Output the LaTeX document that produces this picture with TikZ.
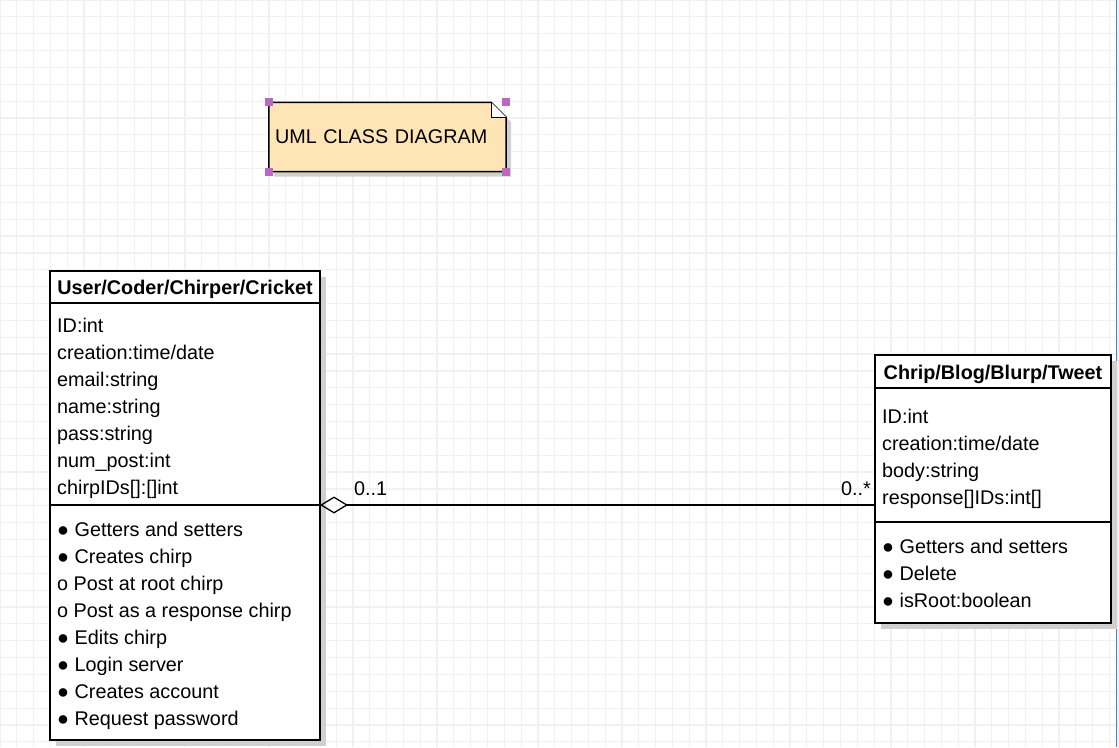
\documentclass[tikz,border=0pt]{standalone}
\usepackage{fontspec}
\setmainfont{Liberation Sans}
\usetikzlibrary{arrows.meta,positioning,calc,shadows,backgrounds}
\usepackage{xcolor}
\definecolor{notefill}{RGB}{255,228,181}
\definecolor{handlepurple}{RGB}{185,105,192}
\definecolor{gridgray}{RGB}{241,241,241}
\definecolor{edgeblue}{RGB}{60,140,205}
\definecolor{shadowgray}{RGB}{208,208,208}

\begin{document}
\begin{tikzpicture}[x=1pt, y=-1pt,
    every node/.style={font=\fontsize{19.8}{27}\selectfont},
    classbox/.style={
        rectangle,
        draw,
        line width=1.5pt,
        fill=white,
        inner sep=0pt,
        outer sep=0pt,
        drop shadow={shadow xshift=6pt, shadow yshift=-6pt, fill=shadowgray, opacity=1}
    },
    classhead/.style={classbox, text height=15pt, text depth=0pt,
        font=\fontsize{19.8}{27}\selectfont\bfseries},
    member/.style={anchor=base west, inner sep=0pt},
    mult/.style={inner sep=0pt},
    notetext/.style={inner sep=6pt, align=left},
    assoc/.style={line width=1.3pt, {Diamond[open, length=28pt, width=17pt]}-}
]
    \useasboundingbox (0,0) rectangle (1119,747);

    \node (title) [notetext, minimum width=237, minimum height=69, text width=225, shift={(387.5,137)}]
    {
        UML CLASS DIAGRAM
    };

    \node (user) [classhead, minimum width=270, minimum height=32, shift={(185,287)}]
    {
        User/Coder/Chirper/Cricket
    };
    \node (userattr) [classbox, minimum width=270, minimum height=202, below=0pt of user] {};
    \node (userops) [classbox, minimum width=270, minimum height=235, below=0pt of userattr] {};
    \foreach \txt [count=\i] in {ID:int, {creation:time/date}, email:string, name:string,
        pass:string, num\_post:int, {chirpIDs[]:[]int}}
        \node (userattr\i) [member] at ($(userattr.north west)+(7,2+27*\i)$) {\txt};
    \foreach \txt [count=\i] in {● Getters and setters, ● Creates chirp, o Post at root chirp,
        o Post as a response chirp, ● Edits chirp, ● Login server, ● Creates account,
        ● Request password}
        \node (userops\i) [member] at ($(userops.north west)+(7,4+27*\i)$) {\txt};

    \node (chirp) [classhead, minimum width=236, minimum height=33, shift={(993,371.5)}]
    {
        Chrip/Blog/Blurp/Tweet
    };
    \node (chirpattr) [classbox, minimum width=236, minimum height=134, below=0pt of chirp] {};
    \node (chirpops) [classbox, minimum width=236, minimum height=101, below=0pt of chirpattr] {};
    \foreach \txt [count=\i] in {ID:int, {creation:time/date}, body:string, {response[]IDs:int[]}}
        \node (chirpattr\i) [member] at ($(chirpattr.north west)+(7,8+27*\i)$) {\txt};
    \foreach \txt [count=\i] in {● Getters and setters, ● Delete, ● isRoot:boolean}
        \node (chirpops\i) [member] at ($(chirpops.north west)+(7,4+27*\i)$) {\txt};

    \draw[assoc] (userattr.south east) to (userattr.south east -| chirpattr.west);
    \node (usermult) [mult, anchor=base west] at ($(userattr.south east)+(34,-10)$) {0..1};
    \node (chirpmult) [mult, anchor=base east] at ($(userattr.south east -| chirpattr.west)+(-4,-10)$) {0..*};

    \foreach \c in {north west, south west, south east, north east}
        \fill[handlepurple] ($(title.\c)+(-4,-4)$) rectangle ++(8,8);

    \begin{pgfonlayer}{background}
        \foreach \gx in {0,16.81,...,1116}
            \draw[gridgray, line width=1.2pt] (\gx,0) -- (\gx,747);
        \foreach \gy in {0,16.86,...,747}
            \draw[gridgray, line width=1.2pt] (0,\gy) -- (1116,\gy);
        \draw[fill=notefill, line width=1.5pt,
            drop shadow={shadow xshift=5pt, shadow yshift=-5pt, fill=shadowgray, opacity=1}]
            (title.north west) -- ($(title.north east)+(-15,0)$) -- ($(title.north east)+(0,15)$)
            -- (title.south east) -- (title.south west) -- cycle;
        \draw[fill=white, line width=1.2pt] ($(title.north east)+(-15,0)$) -- ($(title.north east)+(-15,15)$)
            -- ($(title.north east)+(0,15)$);
        \fill[gray!12] (1117.3,0) rectangle (1119,747);
        \draw[edgeblue, line width=1.5pt] (1116.5,0) -- (1116.5,747);
    \end{pgfonlayer}
\end{tikzpicture}
\end{document}
